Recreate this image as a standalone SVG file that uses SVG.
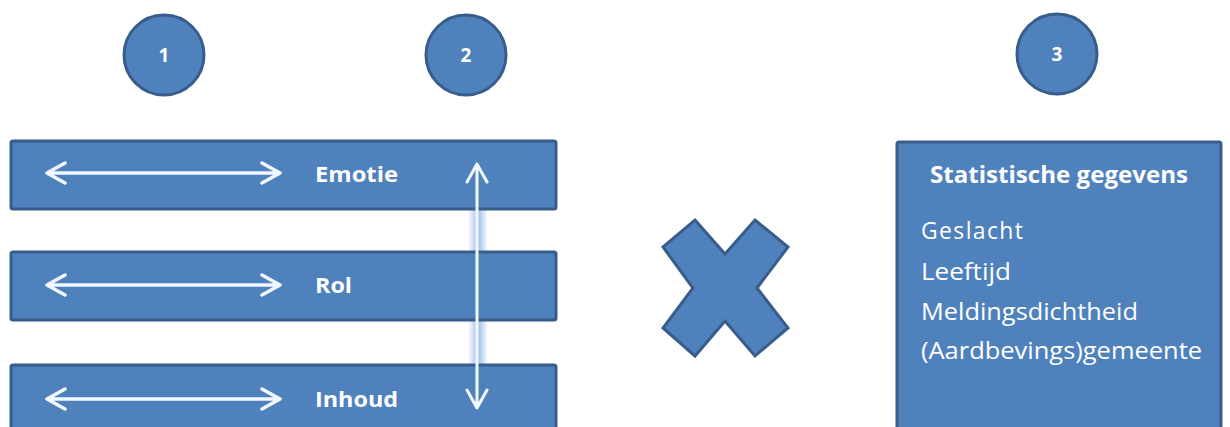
<svg xmlns="http://www.w3.org/2000/svg" width="1230" height="427" viewBox="0 0 1230 427">
  <defs>
    <style>
      .shape { fill: #4F81BD; stroke: #385D8A; stroke-width: 3; }
      .lbl { font-family: "Open Sans", "Liberation Sans", sans-serif; fill: #FFFFFF; }
      .bold { font-weight: bold; }
      .arr { fill: none; stroke: #F2F8FF; stroke-width: 3.5; stroke-linecap: round; stroke-linejoin: round; }
    </style>
    <linearGradient id="glow" x1="0" y1="0" x2="1" y2="0">
      <stop offset="0" stop-color="#9DBEEB" stop-opacity="0"/>
      <stop offset="0.5" stop-color="#9DBEEB" stop-opacity="1"/>
      <stop offset="1" stop-color="#9DBEEB" stop-opacity="0"/>
    </linearGradient>
  </defs>
  <rect width="1230" height="427" fill="#FFFFFF"/>

  <g id="circle-1">
    <circle class="shape" cx="164" cy="55" r="40"/>
    <text class="lbl bold" x="164" y="62" font-size="19" text-anchor="middle">1</text>
  </g>
  <g id="circle-2">
    <circle class="shape" cx="466" cy="55" r="40"/>
    <text class="lbl bold" x="466" y="62" font-size="19" text-anchor="middle">2</text>
  </g>
  <g id="circle-3">
    <circle class="shape" cx="1057" cy="54" r="40"/>
    <text class="lbl bold" x="1057" y="61" font-size="19" text-anchor="middle">3</text>
  </g>

  <!-- glow of the vertical arrow, visible in the gaps -->
  <rect x="468" y="200" width="20" height="175" fill="url(#glow)"/>

  <g id="bar-emotie">
    <rect class="shape" x="11" y="141" width="545" height="68" rx="2"/>
    <text class="lbl bold" x="315" y="182" font-size="22" textLength="83" lengthAdjust="spacingAndGlyphs">Emotie</text>
  </g>
  <g id="bar-rol">
    <rect class="shape" x="11" y="252" width="545" height="68" rx="2"/>
    <text class="lbl bold" x="315" y="293" font-size="22" textLength="37" lengthAdjust="spacingAndGlyphs">Rol</text>
  </g>
  <g id="bar-inhoud">
    <rect class="shape" x="11" y="365" width="545" height="80" rx="2"/>
    <text class="lbl bold" x="315" y="407" font-size="22" textLength="83" lengthAdjust="spacingAndGlyphs">Inhoud</text>
  </g>

  <g id="multiply">
    <polygon class="shape" points="695,220 725,254 755,220 788,247 757,288 788,328 755,356 725,321 695,356 663,328 693,288 663,247"/>
  </g>

  <g id="statistics">
    <rect class="shape" x="897" y="142" width="324" height="300" rx="2"/>
    <text class="lbl bold" x="930" y="183" font-size="24" textLength="258" lengthAdjust="spacingAndGlyphs">Statistische gegevens</text>
    <text class="lbl" x="921" y="239" font-size="23" textLength="102" lengthAdjust="spacing">Geslacht</text>
    <text class="lbl" x="921" y="280" font-size="23" textLength="90" lengthAdjust="spacingAndGlyphs">Leeftijd</text>
    <text class="lbl" x="921" y="320" font-size="23" textLength="217" lengthAdjust="spacingAndGlyphs">Meldingsdichtheid</text>
    <text class="lbl" x="921" y="359" font-size="23" textLength="281" lengthAdjust="spacingAndGlyphs">(Aardbevings)gemeente</text>
  </g>

  <g id="connectors">
    <g class="arr">
      <path d="M47,173 H280 M65,163 L47,173 L65,183 M262,163 L280,173 L262,183"/>
      <path d="M47,285 H280 M65,275 L47,285 L65,295 M262,275 L280,285 L262,295"/>
      <path d="M47,399 H280 M65,389 L47,399 L65,409 M262,389 L280,399 L262,409"/>
      <path d="M477,164 V408 M467,182 L477,164 L487,182 M467,390 L477,408 L487,390" stroke-width="3"/>
    </g>
  </g>
</svg>
